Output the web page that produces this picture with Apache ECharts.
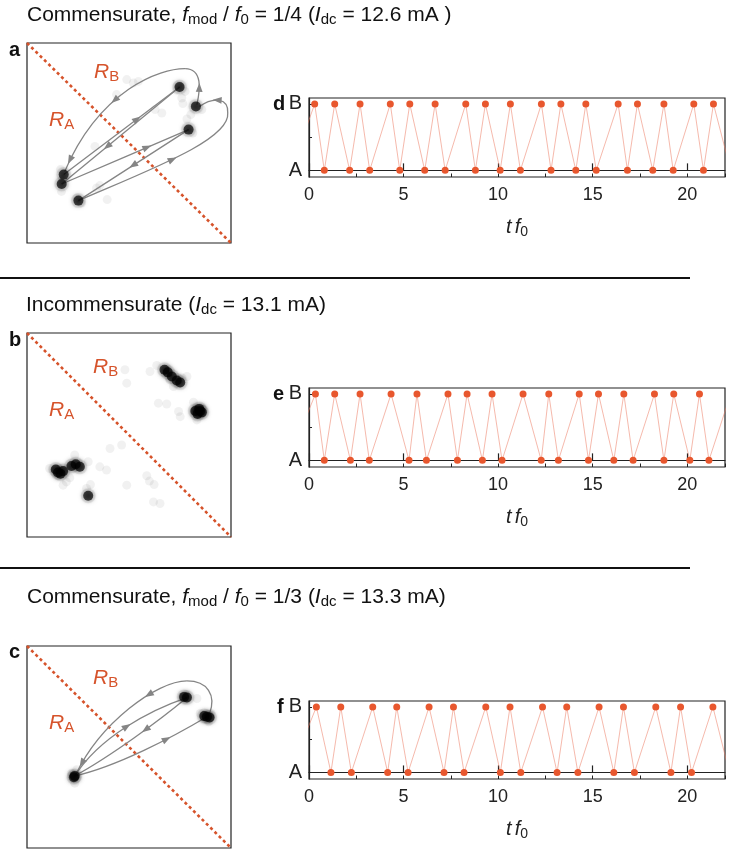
<!DOCTYPE html>
<html><head><meta charset="utf-8">
<script src="https://cdn.jsdelivr.net/npm/echarts@6/dist/echarts.min.js"></script>
<style>html,body{margin:0;padding:0;background:#fff}#c{width:730px;height:852px}</style>
</head><body><div id="c"></div>
<script>
// ---------- Time-series panels (d, e, f): time in units of t*f0, state 0 = A, 1 = B ----------
const stateLabels = ['A', 'B'];
const timesD = [-0.95,0.30,0.81,1.36,2.15,2.70,3.21,4.30,4.80,5.33,6.12,6.67,7.20,8.29,8.80,9.33,10.11,10.65,11.18,12.29,12.80,13.32,14.11,14.64,15.19,16.35,16.84,17.37,18.18,18.77,19.26,20.35,20.86,21.39,22.30];
const statesD = [0,1,0,1,0,1,0,1,0,1,0,1,0,1,0,1,0,1,0,1,0,1,0,1,0,1,0,1,0,1,0,1,0,1,0];
const timesE = [-1.08,0.34,0.81,1.36,2.19,2.70,3.19,4.34,5.29,5.71,6.21,7.35,7.85,8.36,9.17,9.68,10.21,11.32,12.28,12.68,13.19,14.29,14.78,15.31,16.12,16.65,17.14,18.27,18.77,19.29,20.14,20.65,21.15,22.30];
const statesE = [0,1,0,1,0,1,0,1,0,1,0,1,0,1,0,1,0,1,0,1,0,1,0,1,0,1,0,1,0,1,0,1,0,1];
const timesF = [-1.0,0.39,1.16,1.68,2.24,3.37,4.16,4.64,5.24,6.35,7.14,7.64,8.20,9.35,10.12,10.63,11.20,12.35,13.12,13.63,14.22,15.34,16.12,16.63,17.21,18.34,19.14,19.65,20.23,21.36,22.23];
const statesF = [0,1,0,1,0,1,0,1,0,1,0,1,0,1,0,1,0,1,0,1,0,1,0,1,0,1,0,1,0,1,0];

// ---------- Phase-space panels (a, b, c), normalised coordinates ----------
const boundary = [[0, 1], [1, 0]];
const darkA = [[0.748,0.780],[0.828,0.683],[0.792,0.567],[0.180,0.342],[0.170,0.295],[0.252,0.212]];
const faintA = [[0.489,0.817],[0.521,0.800],[0.546,0.808],[0.439,0.742],[0.628,0.667],[0.661,0.650],[0.759,0.725],[0.764,0.697],[0.784,0.620],[0.803,0.642],[0.341,0.275],[0.357,0.287],[0.393,0.217],[0.164,0.367],[0.169,0.258],[0.267,0.200],[0.333,0.483],[0.775,0.758],[0.857,0.667],[0.813,0.550],[0.740,0.790],[0.735,0.765],[0.175,0.320],[0.245,0.225]];
// cubic Bezier paths: x0,y0, cx1,cy1, cx2,cy2, x1,y1
const curvesA = [
  [0.180,0.342, 0.369,0.488, 0.559,0.634, 0.748,0.780],
  [0.748,0.780, 0.555,0.618, 0.363,0.457, 0.170,0.295],
  [0.170,0.295, 0.377,0.386, 0.585,0.476, 0.792,0.567],
  [0.792,0.567, 0.612,0.449, 0.432,0.330, 0.252,0.212],
  [0.252,0.212, 0.603,0.367, 0.997,0.517, 0.984,0.650],
  [0.984,0.650, 0.989,0.725, 0.915,0.733, 0.846,0.683],
  [0.833,0.692, 0.849,0.767, 0.862,0.870, 0.775,0.872],
  [0.775,0.872, 0.652,0.873, 0.357,0.767, 0.185,0.358]
];
const arrowsA = [[0,0.63],[1,0.61],[2,0.67],[3,0.50],[4,0.45],[5,0.55],[6,0.35],[7,0.60],[7,0.95]];

const darkB = [[0.674,0.820],[0.690,0.807],[0.710,0.787],[0.734,0.767],[0.751,0.757],[0.825,0.618],[0.844,0.628],[0.857,0.611],[0.836,0.603],[0.849,0.618],[0.141,0.331],[0.164,0.310],[0.177,0.323],[0.152,0.316],[0.218,0.348],[0.239,0.357],[0.259,0.344],[0.300,0.202]];
const faintB = [[0.480,0.820],[0.489,0.754],[0.603,0.811],[0.636,0.841],[0.784,0.787],[0.718,0.738],[0.644,0.656],[0.685,0.652],[0.751,0.590],[0.743,0.615],[0.816,0.661],[0.833,0.574],[0.407,0.434],[0.464,0.451],[0.357,0.344],[0.390,0.328],[0.292,0.238],[0.311,0.257],[0.587,0.300],[0.600,0.274],[0.623,0.257],[0.489,0.254],[0.620,0.172],[0.652,0.164],[0.111,0.336],[0.193,0.270],[0.210,0.290],[0.234,0.402],[0.300,0.369],[0.177,0.254],[0.760,0.780],[0.700,0.770]];

const darkC = [[0.784,0.745],[0.770,0.748],[0.882,0.650],[0.869,0.653],[0.895,0.646],[0.234,0.357],[0.230,0.350]];
const faintC = [[0.759,0.745],[0.833,0.740],[0.849,0.666],[0.902,0.666],[0.890,0.625],[0.234,0.321],[0.243,0.387],[0.218,0.370]];
const curvesC = [
  [0.234,0.357, 0.357,0.551, 0.603,0.683, 0.784,0.745],
  [0.784,0.745, 0.652,0.633, 0.407,0.452, 0.234,0.357],
  [0.234,0.357, 0.439,0.403, 0.718,0.551, 0.882,0.650],
  [0.895,0.666, 0.928,0.757, 0.885,0.827, 0.784,0.827],
  [0.784,0.827, 0.636,0.827, 0.357,0.617, 0.239,0.362]
];
const arrowsC = [[0,0.5],[1,0.4],[2,0.66],[4,0.34],[4,0.92]];

// ---------- styling ----------
const FF = 'Liberation Sans, Arial, Helvetica, sans-serif';
const RED = '#d6532b';
const DOT = '#e8572e';
const GREY = '#858585';

const chart = echarts.init(document.getElementById('c'), null, {renderer: 'canvas'});

const phaseGrids = [
  {left: 27, top: 43, width: 204, height: 200},
  {left: 27, top: 333, width: 204, height: 204},
  {left: 27, top: 646, width: 204, height: 202}
];
const timeGrids = [
  {left: 309, top: 98, width: 416, height: 79},
  {left: 309, top: 388, width: 416, height: 79},
  {left: 309, top: 701, width: 416, height: 78}
];

const grids = [];
const xAxes = [];
const yAxes = [];
const series = [];

function curveRender(curves, arrows) {
  return function (params, api) {
    const c = curves[params.dataIndex];
    const P = [0, 1, 2, 3].map(k => api.coord([c[2 * k], c[2 * k + 1]]));
    const children = [{
      type: 'bezierCurve',
      shape: {x1: P[0][0], y1: P[0][1], cpx1: P[1][0], cpy1: P[1][1], cpx2: P[2][0], cpy2: P[2][1], x2: P[3][0], y2: P[3][1]},
      style: {stroke: GREY, lineWidth: 1.3, fill: null}
    }];
    arrows.filter(a => a[0] === params.dataIndex).forEach(a => {
      const t = a[1], u = 1 - t;
      const px = u*u*u*P[0][0] + 3*u*u*t*P[1][0] + 3*u*t*t*P[2][0] + t*t*t*P[3][0];
      const py = u*u*u*P[0][1] + 3*u*u*t*P[1][1] + 3*u*t*t*P[2][1] + t*t*t*P[3][1];
      let dx = 3*u*u*(P[1][0]-P[0][0]) + 6*u*t*(P[2][0]-P[1][0]) + 3*t*t*(P[3][0]-P[2][0]);
      let dy = 3*u*u*(P[1][1]-P[0][1]) + 6*u*t*(P[2][1]-P[1][1]) + 3*t*t*(P[3][1]-P[2][1]);
      const L = Math.hypot(dx, dy) || 1; dx /= L; dy /= L;
      const nx = -dy, ny = dx;
      children.push({
        type: 'polygon',
        shape: {points: [[px + dx*5, py + dy*5], [px - dx*4 + nx*3.4, py - dy*4 + ny*3.4], [px - dx*4 - nx*3.4, py - dy*4 - ny*3.4]]},
        style: {fill: GREY}
      });
    });
    return {type: 'group', children};
  };
}

const phaseSets = [
  {dark: darkA, faint: faintA, curves: curvesA, arrows: arrowsA},
  {dark: darkB, faint: faintB, curves: [], arrows: []},
  {dark: darkC, faint: faintC, curves: curvesC, arrows: arrowsC}
];
const timeSets = [[timesD, statesD], [timesE, statesE], [timesF, statesF]];

for (let p = 0; p < 3; p++) {
  // phase grid
  const gi = grids.length;
  grids.push(Object.assign({show: true, borderColor: '#222', borderWidth: 1.2, backgroundColor: 'transparent', containLabel: false}, phaseGrids[p]));
  const xi = xAxes.length;
  xAxes.push({type: 'value', gridIndex: gi, min: 0, max: 1, show: false});
  const yi = yAxes.length;
  yAxes.push({type: 'value', gridIndex: gi, min: 0, max: 1, show: false});
  const set = phaseSets[p];
  series.push({type: 'scatter', xAxisIndex: xi, yAxisIndex: yi, data: set.faint, symbolSize: 9,
    itemStyle: {color: 'rgba(0,0,0,0.07)'}, silent: true, z: 2, animation: false});
  series.push({type: 'scatter', xAxisIndex: xi, yAxisIndex: yi, data: set.dark, symbolSize: 15,
    itemStyle: {color: 'rgba(0,0,0,0.08)'}, silent: true, z: 2, animation: false});
  series.push({type: 'line', xAxisIndex: xi, yAxisIndex: yi, data: boundary, symbol: 'none',
    lineStyle: {color: RED, width: 2.6, type: [3, 3]}, z: 3, animation: false});
  if (set.curves.length) {
    series.push({type: 'custom', xAxisIndex: xi, yAxisIndex: yi, data: set.curves.map(c => [c[0], c[1]]),
      encode: {x: 0, y: 1}, renderItem: curveRender(set.curves, set.arrows), z: 4, animation: false, clip: false});
  }
  series.push({type: 'scatter', xAxisIndex: xi, yAxisIndex: yi, data: set.dark, symbolSize: 10,
    itemStyle: {color: 'rgba(0,0,0,0.85)', shadowBlur: 5, shadowColor: 'rgba(0,0,0,0.8)'}, silent: true, z: 5, animation: false});

  // time grid
  const gt = grids.length;
  grids.push(Object.assign({show: true, borderColor: '#222', borderWidth: 1.2, backgroundColor: 'transparent', containLabel: false}, timeGrids[p]));
  const xm = xAxes.length;
  xAxes.push({type: 'value', gridIndex: gt, min: 0, max: 22, interval: 5, position: 'bottom',
    axisLine: {show: true, lineStyle: {color: '#222', width: 1.2}},
    axisTick: {show: true, inside: true, length: 7, lineStyle: {color: '#222', width: 1.2}},
    axisLabel: {show: true, fontFamily: FF, fontSize: 18, color: '#222', margin: 9, showMaxLabel: false},
    splitLine: {show: false},
    name: '{i|t} {i|f}{s|0}', nameLocation: 'middle', nameGap: 38,
    nameTextStyle: {rich: {
      i: {fontFamily: FF, fontSize: 20, fontStyle: 'italic', color: '#222', lineHeight: 24},
      s: {fontFamily: FF, fontSize: 14, color: '#222', lineHeight: 14, verticalAlign: 'bottom'}
    }}
  });
  xAxes.push({type: 'value', gridIndex: gt, min: 0, max: 22, interval: 2.5, position: 'bottom', offset: 0,
    axisLine: {show: false},
    axisTick: {show: true, inside: true, length: 3.5, lineStyle: {color: '#222', width: 1}},
    axisLabel: {show: false}, splitLine: {show: false}});
  const yt = yAxes.length;
  yAxes.push({type: 'value', gridIndex: gt, min: -0.1, max: 1.09,
    axisLine: {show: true, lineStyle: {color: '#222', width: 1.2}},
    axisTick: {show: true, inside: true, length: 3, customValues: [0, 0.5, 1], lineStyle: {color: '#222'}},
    axisLabel: {show: true, customValues: [0, 1], fontFamily: FF, fontSize: 20, color: '#222', margin: 7,
      formatter: v => (Math.abs(v) < 1e-6 ? stateLabels[0] : (Math.abs(v - 1) < 1e-6 ? stateLabels[1] : ''))},
    splitLine: {show: false}});
  const [ts, ss] = timeSets[p];
  series.push({type: 'line', xAxisIndex: xm, yAxisIndex: yt, data: ts.map((t, i) => [t, ss[i]]),
    symbol: 'circle', symbolSize: 7, showSymbol: true, showAllSymbol: true,
    itemStyle: {color: DOT}, lineStyle: {color: 'rgba(236,125,100,0.6)', width: 0.9},
    clip: true, z: 3, animation: false});
}

const titleRich = {
  n: {fontFamily: FF, fontSize: 21, fill: '#111', lineHeight: 25},
  i: {fontFamily: FF, fontSize: 21, fontStyle: 'italic', fill: '#111', lineHeight: 25},
  s: {fontFamily: FF, fontSize: 15, fill: '#111', lineHeight: 15, verticalAlign: 'bottom'}
};
const rRich = {
  r: {fontFamily: FF, fontSize: 21, fontStyle: 'italic', fill: RED, lineHeight: 24},
  s: {fontFamily: FF, fontSize: 15, fill: RED, lineHeight: 15, verticalAlign: 'bottom'}
};
function txt(x, y, text, rich) {
  return {type: 'text', x, y, z: 100, style: {text, rich, align: 'left', verticalAlign: 'middle'}};
}
function letter(x, y, t) {
  return {type: 'text', x, y, z: 100, style: {text: t, fontFamily: FF, fontSize: 20, fontWeight: 'bold', fill: '#111', align: 'left', verticalAlign: 'middle'}};
}
const graphics = [
  txt(27, 15, '{n|Commensurate, }{i|f}{s|mod}{n| / }{i|f}{s|0}{n| = 1/4 (}{i|I}{s|dc}{n| = 12.6 mA )}', titleRich),
  txt(26, 305, '{n|Incommensurate (}{i|I}{s|dc}{n| = 13.1 mA)}', titleRich),
  txt(27, 597, '{n|Commensurate, }{i|f}{s|mod}{n| / }{i|f}{s|0}{n| = 1/3 (}{i|I}{s|dc}{n| = 13.3 mA)}', titleRich),
  letter(9, 50, 'a'), letter(9, 340, 'b'), letter(9, 652, 'c'),
  letter(273, 104, 'd'), letter(273, 394, 'e'), letter(277, 707, 'f'),
  txt(94, 72, '{r|R}{s|B}', rRich), txt(49, 120, '{r|R}{s|A}', rRich),
  txt(93, 367, '{r|R}{s|B}', rRich), txt(49, 410, '{r|R}{s|A}', rRich),
  txt(93, 678, '{r|R}{s|B}', rRich), txt(49, 723, '{r|R}{s|A}', rRich),
  {type: 'line', z: 100, shape: {x1: 0, y1: 278, x2: 690, y2: 278}, style: {stroke: '#111', lineWidth: 2}},
  {type: 'line', z: 100, shape: {x1: 0, y1: 568, x2: 690, y2: 568}, style: {stroke: '#111', lineWidth: 2}}
];

chart.setOption({
  animation: false,
  backgroundColor: '#fff',
  grid: grids,
  xAxis: xAxes,
  yAxis: yAxes,
  series,
  graphic: {elements: graphics}
});
</script>
</body></html>
